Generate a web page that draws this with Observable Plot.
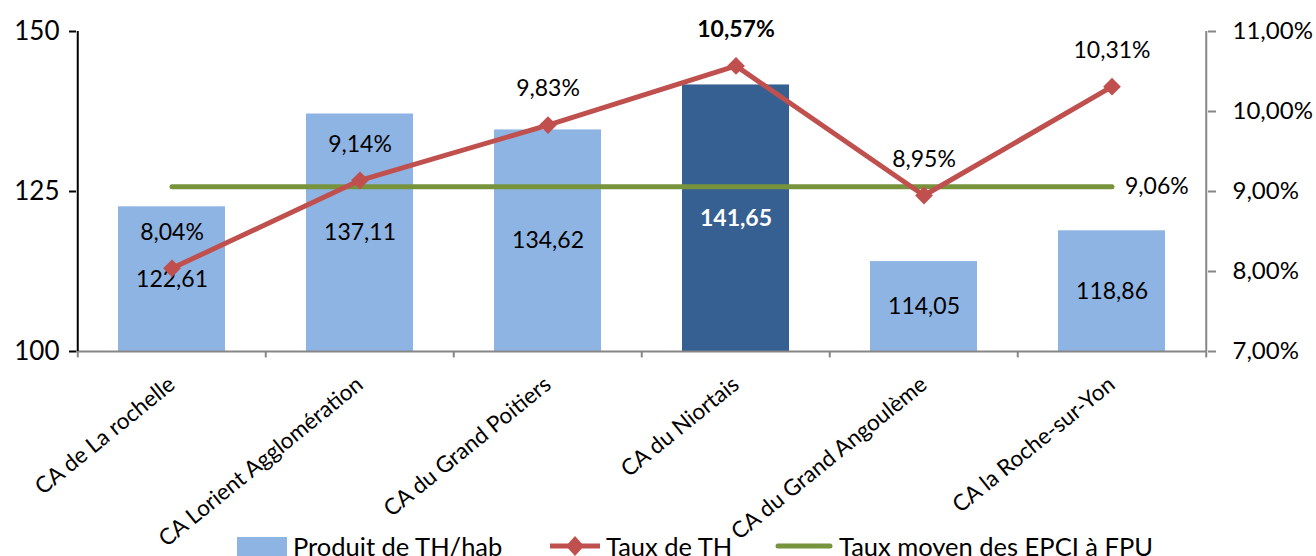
<!DOCTYPE html>
<html>
<head>
<meta charset="utf-8">
<script src="https://cdn.jsdelivr.net/npm/d3@7"></script>
<script src="https://cdn.jsdelivr.net/npm/@observablehq/plot@0.6"></script>
<style>
  html, body { margin: 0; padding: 0; background: #fff; }
  #wrap { position: relative; width: 1316px; height: 556px; overflow: hidden; font-family: Lato, "Open Sans", sans-serif; }
  #legend { position: absolute; left: 0; top: 530px; height: 26px; width: 1316px; overflow: hidden; font-size: 25.5px; color: #000; }
  .li { position: absolute; top: 0; display: flex; align-items: center; height: 32px; white-space: nowrap; background: transparent; }
  .li svg { margin-right: 4px; }
</style>
</head>
<body>
<div id="wrap">
  <div id="chart"></div>
  <div id="legend"></div>
</div>
<script>
const categories = ["CA de La rochelle", "CA Lorient Agglomération", "CA du Grand Poitiers", "CA du Niortais", "CA du Grand Angoulème", "CA la Roche-sur-Yon"];
const produitTH = [122.61, 137.11, 134.62, 141.65, 114.05, 118.86];
const tauxTH = [8.04, 9.14, 9.83, 10.57, 8.95, 10.31];
const tauxMoyen = 9.06;
const highlighted = "CA du Niortais";
const leftTicks = [100, 125, 150];
const rightTicks = [7, 8, 9, 10, 11];
const leftDomain = [100, 150];
const rightDomain = [7, 11];
const seriesNames = ["Produit de TH/hab", "Taux de TH", "Taux moyen des EPCI à FPU"];

const COL_BAR = "#8EB4E3", COL_BAR_HI = "#376092", COL_RED = "#C0504D", COL_GREEN = "#77933C", COL_AXIS = "#868686";

// map a percent value onto the left (primary) scale
const toLeft = p => leftDomain[0] + (p - rightDomain[0]) / (rightDomain[1] - rightDomain[0]) * (leftDomain[1] - leftDomain[0]);
const fromLeft = v => rightDomain[0] + (v - leftDomain[0]) / (leftDomain[1] - leftDomain[0]) * (rightDomain[1] - rightDomain[0]);
const fr2 = v => v.toFixed(2).replace(".", ",");

const data = categories.map((c, i) => ({cat: c, produit: produitTH[i], taux: tauxTH[i], tauxL: toLeft(tauxTH[i]), moyenL: toLeft(tauxMoyen)}));
const dataNormal = data.filter(d => d.cat !== highlighted);
const dataHi = data.filter(d => d.cat === highlighted);

const W = 1316, H = 556, mL = 76, mR = 109, mT = 31, mB = 205;
const step = (W - mL - mR) / categories.length;

const chart = Plot.plot({
  width: W, height: H,
  marginLeft: mL, marginRight: mR, marginTop: mT, marginBottom: mB,
  style: {fontFamily: "Lato, 'Open Sans', sans-serif", fontSize: "23px", color: "#000", background: "#fff"},
  x: {domain: categories, paddingInner: 0.43, paddingOuter: 0.215, label: null},
  y: {domain: leftDomain, label: null},
  marks: [
    Plot.barY(data, {x: "cat", y1: leftDomain[0], y2: "produit", fill: d => d.cat === highlighted ? COL_BAR_HI : COL_BAR}),
    Plot.text(dataNormal, {x: "cat", y: d => (leftDomain[0] + d.produit) / 2, text: d => fr2(d.produit), fill: "#000", fontSize: 23}),
    Plot.text(dataHi, {x: "cat", y: d => (leftDomain[0] + d.produit) / 2, text: d => fr2(d.produit), fill: "#fff", fontWeight: "bold", fontSize: 23}),
    // axes lines
    Plot.ruleY([leftDomain[0]], {stroke: COL_AXIS, strokeWidth: 2}),
    Plot.ruleX([categories[0]], {dx: -step / 2, y1: leftDomain[0], y2: leftDomain[1], stroke: "#000", strokeWidth: 2}),
    Plot.ruleX([categories[categories.length - 1]], {dx: step / 2, y1: leftDomain[0], y2: leftDomain[1], stroke: COL_AXIS, strokeWidth: 2}),
    // category boundary ticks
    Plot.ruleX(categories, {dx: -step / 2, y1: leftDomain[0], y2: leftDomain[0] - 1, stroke: COL_AXIS, strokeWidth: 2}),
    Plot.ruleX([categories[categories.length - 1]], {dx: step / 2, y1: leftDomain[0], y2: leftDomain[0] - 1, stroke: COL_AXIS, strokeWidth: 2}),
    // average line
    Plot.lineY(data, {x: "cat", y: "moyenL", stroke: COL_GREEN, strokeWidth: 5, strokeLinecap: "round"}),
    Plot.text([categories[categories.length - 1]], {x: d => d, y: toLeft(tauxMoyen), text: () => fr2(tauxMoyen) + "%", textAnchor: "start", dx: 13, fontSize: 23}),
    // taux line
    Plot.lineY(data, {x: "cat", y: "tauxL", stroke: COL_RED, strokeWidth: 5}),
    Plot.dot(data, {x: "cat", y: "tauxL", symbol: "diamond2", r: 8, fill: COL_RED, stroke: "none"}),
    Plot.text(dataNormal, {x: "cat", y: "tauxL", dy: -36, text: d => fr2(d.taux) + "%", fontSize: 23}),
    Plot.text(dataHi, {x: "cat", y: "tauxL", dy: -36, text: d => fr2(d.taux) + "%", fontWeight: "bold", fontSize: 23}),
    // axes
    Plot.axisY(leftTicks, {anchor: "left", tickSize: 7, tickPadding: 10, stroke: "#000", fill: "#000", strokeWidth: 2, fontSize: 26, label: null}),
    Plot.axisY(rightTicks.map(toLeft), {anchor: "right", tickSize: 8, tickPadding: 17, stroke: COL_AXIS, fill: "#000", strokeWidth: 2,
      tickFormat: v => fr2(fromLeft(v)) + "%", fontSize: 24, label: null}),
    Plot.axisX(categories, {anchor: "bottom", tickSize: 0, tickPadding: 30, dx: 0, tickRotate: -39, fontSize: 22.5, fill: "#000", label: null})
  ]
});
document.getElementById("chart").appendChild(chart);

// legend
const legend = document.getElementById("legend");
const items = [
  {left: 237, sw: `<svg width="52" height="22"><rect x="0" y="2" width="50" height="20" fill="${COL_BAR}"/></svg>`},
  {left: 548, sw: `<svg width="54" height="24"><line x1="2" y1="12" x2="52" y2="12" stroke="${COL_RED}" stroke-width="5"/><path d="M27,2 L36,12 L27,22 L18,12 Z" fill="${COL_RED}"/></svg>`},
  {left: 775, sw: `<svg width="60" height="24"><line x1="3" y1="12" x2="55" y2="12" stroke="${COL_GREEN}" stroke-width="5" stroke-linecap="round"/></svg>`}
];
items.forEach((it, i) => {
  const d = document.createElement("div");
  d.className = "li";
  d.style.left = it.left + "px";
  d.innerHTML = it.sw + `<span>${seriesNames[i]}</span>`;
  legend.appendChild(d);
});
</script>
</body>
</html>
